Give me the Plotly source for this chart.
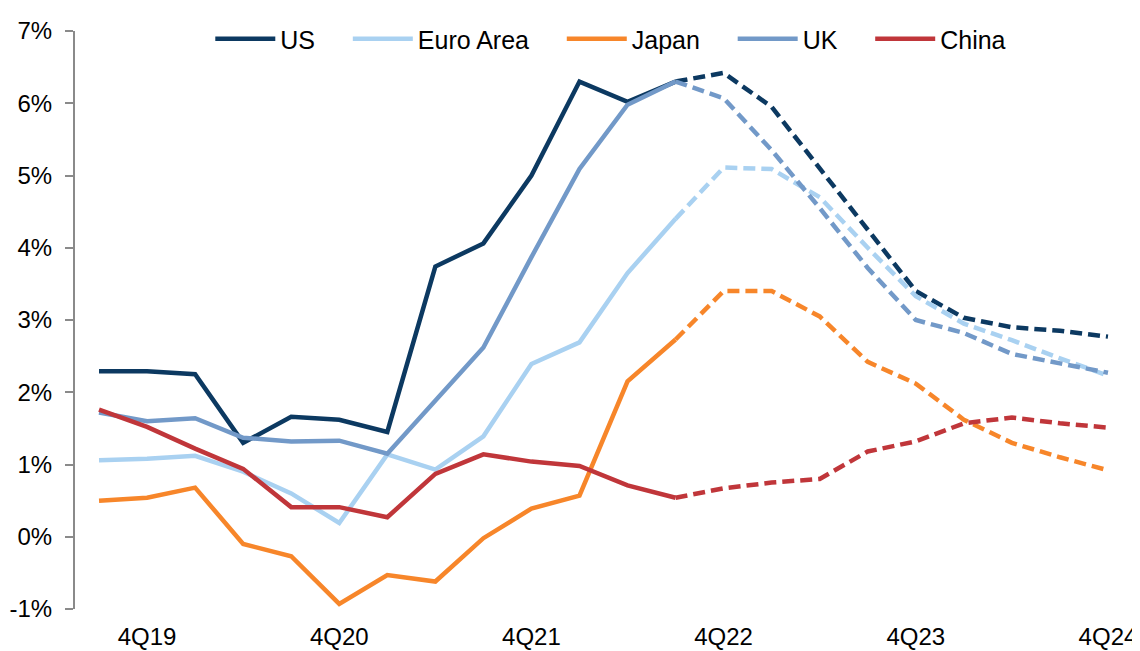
import plotly.graph_objects as go

quarters = ["3Q19", "4Q19", "1Q20", "2Q20", "3Q20", "4Q20", "1Q21", "2Q21", "3Q21", "4Q21",
            "1Q22", "2Q22", "3Q22", "4Q22", "1Q23", "2Q23", "3Q23", "4Q23", "1Q24", "2Q24",
            "3Q24", "4Q24"]
tick_labels = ["4Q19", "4Q20", "4Q21", "4Q22", "4Q23", "4Q24"]
last_actual = "3Q22"

us = [2.29, 2.29, 2.25, 1.30, 1.66, 1.62, 1.45, 3.74, 4.06, 5.00, 6.30, 6.02, 6.30, 6.42,
      5.95, 5.10, 4.25, 3.40, 3.03, 2.90, 2.85, 2.77]
euro = [1.06, 1.08, 1.12, 0.90, 0.60, 0.19, 1.14, 0.93, 1.39, 2.39, 2.69, 3.65, 4.40, 5.11,
        5.09, 4.70, 4.00, 3.33, 2.95, 2.72, 2.47, 2.23]
japan = [0.50, 0.54, 0.68, -0.10, -0.27, -0.93, -0.53, -0.62, -0.02, 0.39, 0.57, 2.15, 2.73,
         3.40, 3.40, 3.05, 2.42, 2.12, 1.62, 1.30, 1.10, 0.92]
uk = [1.72, 1.60, 1.64, 1.37, 1.32, 1.33, 1.15, 1.88, 2.62, 3.87, 5.09, 5.98, 6.30, 6.07,
      5.35, 4.55, 3.72, 3.00, 2.82, 2.53, 2.40, 2.27]
china = [1.76, 1.52, 1.22, 0.94, 0.41, 0.41, 0.27, 0.87, 1.14, 1.04, 0.98, 0.71, 0.54, 0.67,
         0.75, 0.80, 1.18, 1.32, 1.57, 1.65, 1.57, 1.51]

series = [("US", us, "#0c3961"), ("Euro Area", euro, "#a9d1f1"), ("Japan", japan, "#f7862a"),
          ("UK", uk, "#7299c8"), ("China", china, "#c0363a")]

y_ticks = [-1, 0, 1, 2, 3, 4, 5, 6, 7]
y_labels = ["-1%", "0%", "1%", "2%", "3%", "4%", "5%", "6%", "7%"]

split = quarters.index(last_actual)
xs = list(range(len(quarters)))
pad = "\u00a0" * 4

fig = go.Figure()
for name, vals, col in series:
    solid = [v if i <= split else None for i, v in enumerate(vals)]
    dashed = [v if i >= split else None for i, v in enumerate(vals)]
    fig.add_trace(go.Scatter(x=xs, y=solid, mode="lines", name=name + pad,
                             line=dict(color=col, width=4.5), showlegend=True))
    fig.add_trace(go.Scatter(x=xs, y=dashed, mode="lines", name=name + " (f)",
                             line=dict(color=col, width=4.5, dash="12px,6px"), showlegend=False))

axis_col = "#8a8a8a"
font = dict(family="Liberation Sans, Arial, sans-serif", size=24, color="#000000")

fig.update_layout(
    width=1132, height=643,
    margin=dict(l=67, r=8, t=17, b=42),
    paper_bgcolor="white", plot_bgcolor="white",
    font=font,
    showlegend=True,
    legend=dict(orientation="h", x=0.128, xanchor="left", y=0.986, yanchor="middle",
                bgcolor="rgba(0,0,0,0)", font=dict(size=25), itemwidth=60, tracegroupgap=0),
    xaxis=dict(range=[-0.5, len(quarters) - 0.5], showgrid=False, zeroline=False,
               showline=False, tickmode="array", automargin=False,
               tickvals=[quarters.index(t) for t in tick_labels], ticktext=tick_labels,
               ticks="outside", ticklen=6, tickcolor="rgba(0,0,0,0)"),
    xaxis2=dict(range=[-0.5, len(quarters) - 0.5], overlaying="x", anchor="free",
                position=1 / 8, side="bottom", showgrid=False, zeroline=False,
                showline=True, linecolor=axis_col, linewidth=2, automargin=False,
                tickmode="array", tickvals=[i - 0.5 for i in range(len(quarters) + 1)],
                ticks="outside", ticklen=7, tickwidth=2, tickcolor=axis_col,
                showticklabels=False),
    yaxis=dict(range=[-1, 7], showgrid=False, zeroline=False, showline=True,
               linecolor=axis_col, linewidth=2, tickmode="array", tickvals=y_ticks,
               ticktext=y_labels, ticks="outside", ticklen=8, tickwidth=2, automargin=False,
               tickcolor=axis_col, ticklabelstandoff=8),
)

fig.write_html("out.html")
